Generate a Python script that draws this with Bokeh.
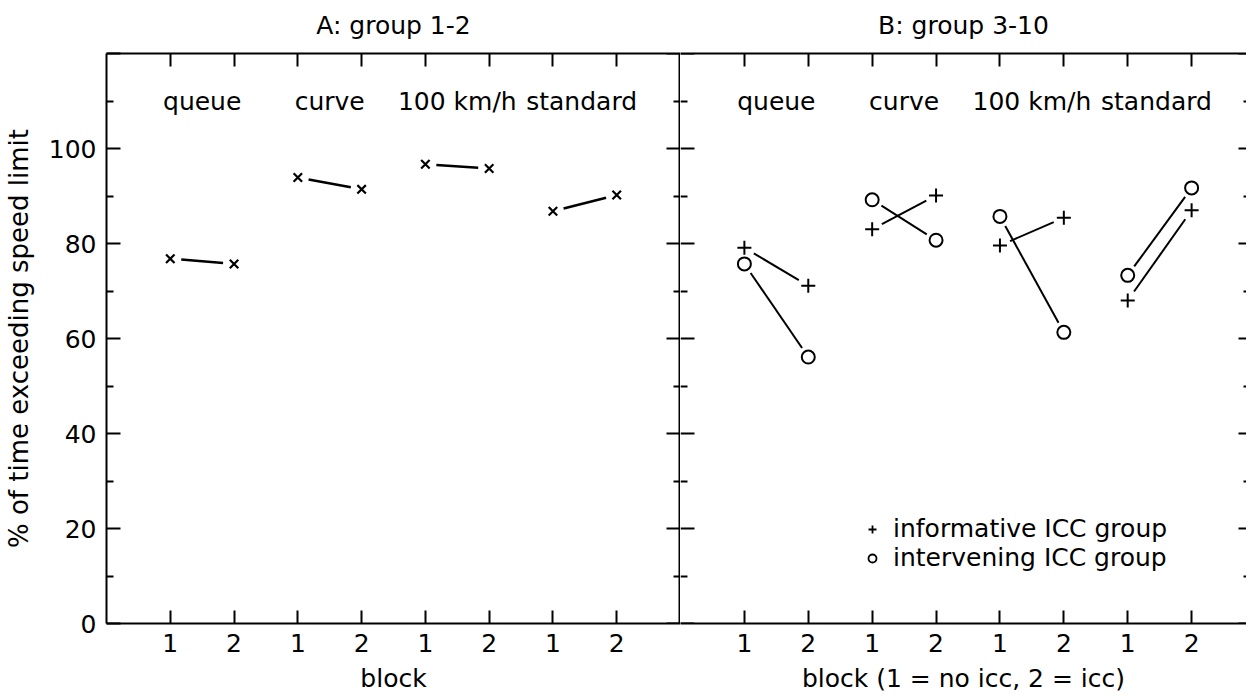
import math
from bokeh.plotting import figure
from bokeh.models import Range1d, LinearAxis, FixedTicker, ColumnDataSource, Legend, LegendItem
from bokeh.layouts import row
from bokeh.embed import file_html
from bokeh.resources import INLINE
from bokeh.core.properties import value

# ---------------- data ----------------
conditions = ["queue", "curve", "100 km/h", "standard"]
blocks = [1, 2]
block_tick_labels = ["1", "2", "1", "2", "1", "2", "1", "2"]
y_ticks = [0, 20, 40, 60, 80, 100, 120]
y_tick_labels = ["0", "20", "40", "60", "80", "100", ""]
y_minor = [10, 30, 50, 70, 90, 110]

# panel A: group 1-2
groupA_block1 = [76.8, 93.9, 96.7, 86.8]
groupA_block2 = [75.7, 91.4, 95.8, 90.2]
# panel B: group 3-10
informative_block1 = [79.1, 83.0, 79.6, 68.0]
informative_block2 = [71.1, 90.1, 85.4, 87.0]
intervening_block1 = [75.7, 89.2, 85.7, 73.3]
intervening_block2 = [56.1, 80.7, 61.3, 91.7]

# ---------------- style ----------------
FONT = "DejaVu Sans"
FS = "25px"
PX_X = 575 / 9.0      # pixels per x unit
PX_Y = 570 / 120.0    # pixels per y unit
GAP = 11              # px gap between marker and connecting line

x_b1 = [2 * i + blocks[0] for i in range(len(conditions))]
x_b2 = [2 * i + blocks[1] for i in range(len(conditions))]
label_x = [(a + b) / 2 for a, b in zip(x_b1, x_b2)]
label_x[3] -= 0.05
label_y = [110] * len(conditions)
x_ticks = sorted(x_b1 + x_b2)


def shortened(xa, ya, xb, yb, gap=GAP):
    xs0, ys0, xs1, ys1 = [], [], [], []
    for a, b, c, d in zip(xa, ya, xb, yb):
        dx, dy = (c - a) * PX_X, (d - b) * PX_Y
        f = gap / math.hypot(dx, dy)
        xs0.append(a + f * (c - a)); ys0.append(b + f * (d - b))
        xs1.append(c - f * (c - a)); ys1.append(d - f * (d - b))
    return xs0, ys0, xs1, ys1


def make_axis(loc, ticks, minor, labels, tin, tout, min_in=0, min_out=0, standoff=8, label=None,
              line_width=2):
    ax = LinearAxis(fixed_location=loc)
    ax.ticker = FixedTicker(ticks=ticks, minor_ticks=minor)
    ax.major_tick_in = tin
    ax.major_tick_out = tout
    ax.minor_tick_in = min_in
    ax.minor_tick_out = min_out
    ax.axis_line_width = line_width
    ax.axis_line_color = "black"
    ax.major_tick_line_width = 2
    ax.minor_tick_line_width = 2
    ax.major_tick_line_color = "black"
    ax.minor_tick_line_color = "black"
    ax.major_label_overrides = {t: l for t, l in zip(ticks, labels)}
    ax.major_label_text_font = FONT
    ax.major_label_text_font_size = FS
    ax.major_label_text_color = "black"
    ax.major_label_standoff = standoff
    ax.axis_label_text_font = FONT
    ax.axis_label_text_font_size = FS
    ax.axis_label_text_font_style = "normal"
    ax.axis_label_text_color = "black"
    if label:
        ax.axis_label = label
    return ax


def make_fig(width, x_end, title, xlabel):
    p = figure(width=width, height=697, x_range=Range1d(0, x_end), y_range=Range1d(0, 120),
               output_backend="svg", toolbar_location=None,
               x_axis_location=None, y_axis_location=None,
               min_border_top=53, min_border_bottom=74, min_border_right=0, min_border_left=0)
    p.grid.visible = False
    p.outline_line_color = None
    p.background_fill_color = "white"
    p.border_fill_color = "white"
    bottom = make_axis(None, x_ticks, [], block_tick_labels, 13, 0, standoff=10, label=xlabel)
    bottom.axis_label_standoff = 9
    p.add_layout(bottom, "below")
    # top frame edge; its axis label carries the panel title
    top = make_axis(None, x_ticks, [], [""] * len(x_ticks), 13, 0, standoff=0, label=title)
    top.major_label_text_font_size = "1px"
    top.axis_label_standoff = 14
    p.add_layout(top, "above")
    p.text(x=label_x, y=label_y, text=conditions, text_font=value(FONT), text_font_size=FS,
           text_align="center", text_baseline="middle", text_color="black")
    return p


# ---------------- panel A ----------------
p1 = make_fig(680, 9, "A: group 1-2", "block")
p1.min_border_left = 105
left = make_axis(None, y_ticks, y_minor, y_tick_labels, 14, 0, 7, 0, standoff=10,
                 label="% of time exceeding speed limit")
left.axis_label_standoff = 12
left.axis_label_text_font_size = "26px"
p1.add_layout(left, "left")
# shared divider between the panels (kept one pixel inside the frame so it is not clipped)
mid = make_axis(9 - 1.0 / PX_X, y_ticks, y_minor, [""] * len(y_ticks), 13, 0, 6, 0, line_width=2)
p1.add_layout(mid, "right")

srcA = ColumnDataSource(dict(x1=x_b1, x2=x_b2, y1=groupA_block1, y2=groupA_block2))
a0, b0, a1, b1 = shortened(x_b1, groupA_block1, x_b2, groupA_block2)
p1.segment(a0, b0, a1, b1, line_color="black", line_width=2.5)
p1.scatter("x1", "y1", source=srcA, marker="x", size=12, line_width=2.2, line_color="black")
p1.scatter("x2", "y2", source=srcA, marker="x", size=12, line_width=2.2, line_color="black")

# ---------------- panel B ----------------
xend2 = 566 / PX_X
p2 = make_fig(566, xend2, "B: group 3-10", "block (1 = no icc, 2 = icc)")
left2 = make_axis(0, y_ticks, y_minor, [""] * len(y_ticks), 14, 0, 7, 0)
left2.axis_line_color = None
p2.add_layout(left2, "left")
redge = make_axis(xend2, y_ticks, y_minor, [""] * len(y_ticks), 8, 0, 3, 0)
redge.axis_line_color = None
p2.add_layout(redge, "right")

srcI = ColumnDataSource(dict(x1=x_b1, x2=x_b2, y1=informative_block1, y2=informative_block2))
srcV = ColumnDataSource(dict(x1=x_b1, x2=x_b2, y1=intervening_block1, y2=intervening_block2))
for yA, yB in ((informative_block1, informative_block2), (intervening_block1, intervening_block2)):
    a0, b0, a1, b1 = shortened(x_b1, yA, x_b2, yB)
    p2.segment(a0, b0, a1, b1, line_color="black", line_width=2)
for col in ("1", "2"):
    p2.scatter("x" + col, "y" + col, source=srcI, marker="cross", size=14, line_width=2, line_color="black")
    p2.scatter("x" + col, "y" + col, source=srcV, marker="circle", size=13, line_width=2,
               line_color="black", fill_color=None)

nan = float("nan")
leg_inf = p2.scatter(x=[nan], y=[nan], marker="cross", size=11, line_width=1.8, line_color="black")
leg_int = p2.scatter(x=[nan], y=[nan], marker="circle", size=9, line_width=1.8, line_color="black",
                     fill_color=None)
legend = Legend(items=[LegendItem(label="informative ICC group", renderers=[leg_inf]),
                       LegendItem(label="intervening ICC group", renderers=[leg_int])],
                location=(182, 51), padding=0, margin=0, spacing=0,
                glyph_width=20, glyph_height=28, label_height=28, label_standoff=11,
                label_text_font=FONT, label_text_font_size=FS, label_text_color="black",
                background_fill_alpha=0, border_line_color=None)
p2.add_layout(legend)

layout = row(p1, p2)
open("out.html", "w").write(file_html(layout, INLINE))
